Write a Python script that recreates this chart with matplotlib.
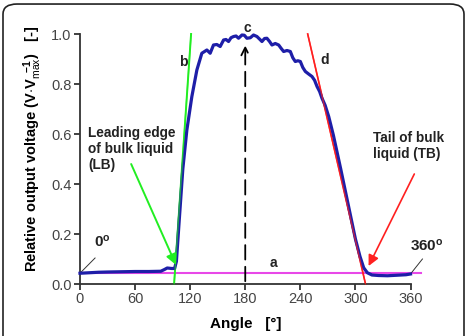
"""Relative output voltage vs. angle, with leading/tail edge tangents."""
import matplotlib.pyplot as plt
from matplotlib.patches import FancyBboxPatch

angle = [0, 10, 20, 30, 45, 60, 75, 88, 92, 95, 100, 103, 105, 108, 112,
         116.4, 121.8, 127.3, 132.7, 138.2, 141.8, 145.4, 149, 152.7, 156.4,
         159, 161.8, 164.5, 167.3, 170, 172.7, 176.4, 179, 181.8, 185.5, 189,
         192.7, 195.5, 198.2, 201, 203.6, 206.5, 209.1, 212.7, 216.4, 219,
         221.8, 225.5, 229.1, 231.8, 234.5, 237.3, 240, 242.7, 245.5, 249,
         252.7, 255.5, 258.2, 261, 263.6, 267, 270.9, 276, 284, 292, 300,
         305, 309, 313, 318, 325, 335, 345, 355, 360]
voltage = [0.043, 0.045, 0.047, 0.048, 0.049, 0.050, 0.050, 0.051, 0.058, 0.064,
           0.062, 0.062, 0.09, 0.25, 0.46,
           0.616, 0.749, 0.856, 0.923, 0.936, 0.923, 0.956, 0.958, 0.950, 0.976,
           0.978, 0.970, 0.985, 0.990, 0.992, 0.983, 0.996, 0.995, 0.983, 0.985, 0.996,
           0.990, 0.980, 0.970, 0.982, 0.983, 0.970, 0.956, 0.962, 0.956, 0.943,
           0.930, 0.934, 0.930, 0.905, 0.890, 0.893, 0.890, 0.866, 0.850, 0.840,
           0.830, 0.815, 0.790, 0.770, 0.743, 0.715, 0.670, 0.595, 0.460, 0.320, 0.180,
           0.110, 0.065, 0.045, 0.036, 0.034, 0.033, 0.035, 0.037, 0.040]

# construction lines
line_a_x, line_a_y = [0, 371], [0.043, 0.043]      # baseline
line_b_x, line_b_y = [102.5, 121], [0.0, 1.0]      # leading edge tangent
line_d_x, line_d_y = [248, 311], [1.0, 0.0]        # tail tangent
peak_angle = 180

x_ticks = [0, 60, 120, 180, 240, 300, 360]
y_ticks = [0.0, 0.2, 0.4, 0.6, 0.8, 1.0]

BLUE = "#1e1ea8"
GREEN = "#22ee22"
RED = "#ff2020"
MAGENTA = "#e848e8"

plt.rcParams.update({
    "font.family": ["Liberation Sans", "DejaVu Sans"],
    "mathtext.fontset": "custom",
    "mathtext.rm": "Liberation Sans",
    "mathtext.bf": "Liberation Sans:bold",
    "mathtext.it": "Liberation Sans:italic",
})

fig = plt.figure(figsize=(4.67, 3.36), dpi=100)
ax = fig.add_axes([80 / 467, 52 / 336, 330.5 / 467, 250 / 336])

# rounded frame around the whole picture
fig.patches.append(FancyBboxPatch((3 / 467, -0.2), 461 / 467, 1.188,
                                  boxstyle="round,pad=0,rounding_size=0.03",
                                  transform=fig.transFigure, fill=False,
                                  edgecolor="#222222", linewidth=1.2))

ax.plot(line_a_x, line_a_y, color=MAGENTA, lw=1.5, clip_on=False, zorder=2)
ax.plot(line_b_x, line_b_y, color=GREEN, lw=1.4, clip_on=False, zorder=2)
ax.plot(line_d_x, line_d_y, color=RED, lw=1.2, clip_on=False, zorder=2)
ax.plot(angle, voltage, color=BLUE, lw=2.3, clip_on=False, zorder=3)
ax.plot(line_b_x, line_b_y, color=GREEN, lw=1.0, clip_on=False, zorder=4, alpha=0.6)
ax.plot(line_d_x, line_d_y, color=RED, lw=1.0, clip_on=False, zorder=4, alpha=0.7)

# peak marker
ax.annotate("", xy=(peak_angle, 0.965), xytext=(peak_angle, 0.0),
            arrowprops=dict(arrowstyle="->", color="black", lw=1.3,
                            linestyle=(0, (8, 4)), mutation_scale=14),
            annotation_clip=False)

bold = dict(fontweight="bold", color="#222222")
ax.text(182, 1.024, "c", ha="center", va="center", fontsize=10, **bold)
ax.text(112, 0.89, "b", ha="center", va="center", fontsize=10, **bold)
ax.text(267, 0.896, "d", ha="center", va="center", fontsize=10, **bold)
ax.text(211, 0.085, "a", ha="center", va="center", fontsize=10, **bold)

ax.text(8.7, 0.54, "Leading edge\nof bulk liquid\n(LB)", ha="left", va="center",
        fontsize=9.8, linespacing=1.2, **bold)
ax.text(319.6, 0.552, "Tail of bulk\nliquid (TB)", ha="left", va="center",
        fontsize=9.8, linespacing=1.2, **bold)

ax.annotate("", xy=(105.8, 0.066), xytext=(54.5, 0.49),
            arrowprops=dict(arrowstyle="-|>", color=GREEN, lw=1.4, mutation_scale=16),
            annotation_clip=False)
ax.annotate("", xy=(313, 0.062), xytext=(365.5, 0.45),
            arrowprops=dict(arrowstyle="-|>", color=RED, lw=1.2, mutation_scale=16),
            annotation_clip=False)

ax.plot([0.5, 16.4], [0.045, 0.104], color="#333333", lw=0.7, clip_on=False)
ax.plot([360, 373], [0.04, 0.1], color="#333333", lw=0.7, clip_on=False)
ax.text(15, 0.17, r"0$^{\mathbf{o}}$", ha="left", va="center", fontsize=11, **bold)
ax.text(360, 0.155, r"360$^{\mathbf{o}}$", ha="left", va="center", fontsize=11, **bold)

ax.set_xlim(0, 360)
ax.set_ylim(0, 1.0)
ax.set_xticks(x_ticks)
ax.set_yticks(y_ticks)
ax.set_yticklabels([f"{v:.1f}" for v in y_ticks])
for s in ["top", "right"]:
    ax.spines[s].set_visible(False)
for s in ["left", "bottom"]:
    ax.spines[s].set_color("#333333")
    ax.spines[s].set_linewidth(1.3)
ax.tick_params(direction="out", length=4, width=1.3, color="#333333",
               labelsize=10.5, labelcolor="#444444", pad=2)

ax.set_xlabel("Angle   [°]", fontsize=11, fontweight="bold", labelpad=8)
ax.set_ylabel(r"Relative output voltage (V$\cdot$V$_{\mathrm{max}}^{\ \ \mathbf{-1}}$)   [-]",
              fontsize=10.5, fontweight="bold", labelpad=6)
ax.yaxis.set_label_coords(-0.11, 0.54)

fig.savefig("out.png", dpi=100)
